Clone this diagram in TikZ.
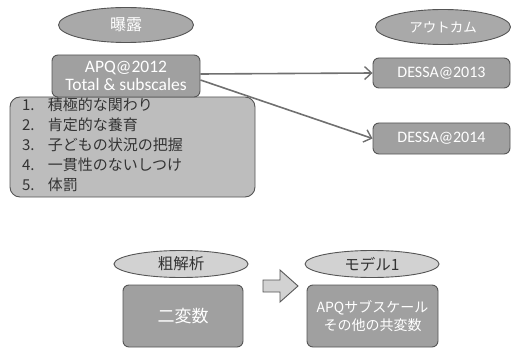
\documentclass[tikz,border=0pt]{standalone}
\usepackage{fontspec}
\setmainfont{Carlito}
\newfontfamily\jp{Noto Sans CJK JP}
\usetikzlibrary{arrows.meta,shapes.geometric}
\definecolor{edge}{HTML}{555555}
\definecolor{topfill}{HTML}{A9A9A9}
\definecolor{boxfill}{HTML}{A0A0A0}
\definecolor{listfill}{HTML}{BDBDBD}
\definecolor{lightfill}{HTML}{D2D2D2}
\definecolor{arrcol}{HTML}{707070}
\definecolor{txtdark}{HTML}{333333}
\tikzset{
  base/.style={draw=edge, line width=0.9pt, inner sep=0pt, align=center},
  ellTop/.style={base, ellipse, fill=topfill, text=white, minimum width=135pt, minimum height=35pt},
  ellLow/.style={base, ellipse, fill=lightfill, text=txtdark, minimum width=134pt, minimum height=27pt},
  gbox/.style={base, rounded corners=6pt, fill=boxfill, text=white},
  link/.style={draw=arrcol, line width=1.6pt, -{Straight Barb[length=7pt,width=13pt,line width=1.4pt]}},
}
\begin{document}
\begin{tikzpicture}[x=1pt,y=-1pt]
\useasboundingbox (0,0) rectangle (511,350);
% top-left
\node[ellTop, font=\jp\fontsize{16}{18}\selectfont] (e1) at (126,25) {曝露};
\node[base, rounded corners=10pt, fill=listfill, text=txtdark, minimum width=245pt, minimum height=100pt,
      text width=221pt, align=left, font=\jp\fontsize{15}{20}\selectfont] (lst) at (132.5,147)
  {\makebox[26pt][l]{1.}積極的な関わり\\
   \makebox[26pt][l]{2.}肯定的な養育\\
   \makebox[26pt][l]{3.}子どもの状況の把握\\
   \makebox[26pt][l]{4.}一貫性のないしつけ\\
   \makebox[26pt][l]{5.}体罰\rule[-6pt]{0pt}{6pt}};
\node[gbox, minimum width=148pt, minimum height=42pt, font=\fontsize{17.5}{18}\selectfont] (apq) at (126,76)
  {APQ@2012\\Total \& subscales};
% top-right
\node[ellTop, font=\jp\fontsize{13.5}{16}\selectfont] (e2) at (443,27) {アウトカム};
\node[gbox, minimum width=137pt, minimum height=30pt, font=\fontsize{16}{17}\selectfont] (d1) at (441.5,73) {DESSA@2013};
\node[gbox, minimum width=137pt, minimum height=31pt, font=\fontsize{16}{17}\selectfont] (d2) at (441.5,138.5) {DESSA@2014};
\draw[link] ([yshift=2pt]apq.east) -- (d1.west);
\draw[link] ([yshift=-4pt]apq.east) -- (d2.west);
% bottom
\node[ellLow, font=\jp\fontsize{15.5}{18}\selectfont] (e3) at (181,264) {粗解析};
\node[gbox, minimum width=120pt, minimum height=62pt, font=\jp\fontsize{17}{18}\selectfont] (b3) at (183,316) {二変数};
\draw[edge, line width=0.9pt, fill=lightfill, line join=miter]
  (263,280) -- (280,280) -- (280,270) -- (298,286) -- (280,302) -- (280,292) -- (263,292) -- cycle;
\node[ellLow, font=\jp\fontsize{15.5}{18}\selectfont] (e4) at (372,264) {モデル1};
\node[gbox, minimum width=131pt, minimum height=62pt, font=\jp\fontsize{14}{18}\selectfont] (b4) at (372.5,316)
  {APQサブスケール\\その他の共変数};
\end{tikzpicture}
\end{document}
